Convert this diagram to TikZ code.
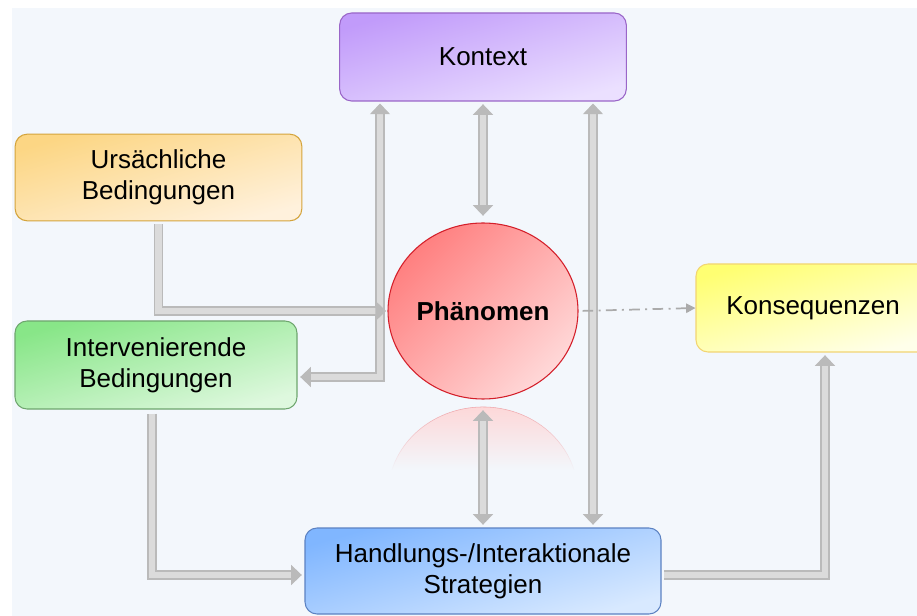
\documentclass[tikz,border=0pt]{standalone}
\usepackage{fontspec}
\setmainfont{Liberation Sans}
\usetikzlibrary{arrows.meta,shapes.geometric,fadings}
\definecolor{bgblue}{HTML}{F3F7FC}
\definecolor{kontA}{HTML}{C19BFA}\definecolor{kontB}{HTML}{EBE0FF}\definecolor{kontL}{HTML}{9A66C8}
\definecolor{ursA}{HTML}{FCD684}\definecolor{ursB}{HTML}{FFF1DC}\definecolor{ursL}{HTML}{D4A43C}
\definecolor{intA}{HTML}{88E688}\definecolor{intB}{HTML}{DEF8DE}\definecolor{intL}{HTML}{6EA66E}
\definecolor{phA}{HTML}{FF8080}\definecolor{phB}{HTML}{FFD8D8}\definecolor{phL}{HTML}{D41F2A}
\definecolor{konA}{HTML}{FFFF72}\definecolor{konB}{HTML}{FFFFEA}\definecolor{konL}{HTML}{F2D572}
\definecolor{handA}{HTML}{80B6FF}\definecolor{handB}{HTML}{D8E9FF}\definecolor{handL}{HTML}{5C82C2}

\begin{document}
\begin{tikzpicture}[x=0.75pt, y=-0.75pt, font=\fontsize{19.5}{23.5}\selectfont, line join=round, >={Triangle[width=15pt,length=8pt]},
		box/.style={rounded corners=9pt, align=center, inner sep=0pt, line width=0.8pt},
		grad/.style 2 args={top color=#1, bottom color=#2, shading angle=16},
		pipe/.style={draw=black!27, line width=0.9pt, double=black!14, double distance=5pt, line join=miter},
		dotarrow/.style={draw=black!33, line width=1.3pt, dash pattern=on 8pt off 4pt on 1.5pt off 4pt, -{Triangle[width=7pt,length=7pt]}}]
		\useasboundingbox (0,0) rectangle (917,616);
		\clip (0,0) rectangle (917,616);
		\fill[white] (0,0) rectangle (917,616);
		\fill[bgblue] (12,8) rectangle (917,616);
		% help points for the bent pipes
		\coordinate (kx) at (380,0);
		\coordinate (rx) at (593,0);
		% reflection under the phenomenon
		\fill[phA!35, path fading=south] (391.9,470) arc[start angle=-163.5, end angle=-16.5, x radius=95, y radius=88] -- cycle;
		\draw[phL!45, path fading=south] (391.9,470) arc[start angle=-163.5, end angle=-16.5, x radius=95, y radius=88];
		% boxes
		\node[box, draw=kontL, grad={kontA}{kontB}, minimum width=215pt, minimum height=66pt] (kontext) at (483,57) {Kontext};
		\node[box, draw=ursL, grad={ursA}{ursB}, minimum width=215pt, minimum height=65pt] (ursach) at (158.5,177.5) {Ursächliche\\Bedingungen};
		\node[box, draw=intL, grad={intA}{intB}, minimum width=211.5pt, minimum height=66pt] (interv) at (156,365) {Intervenierende\\Bedingungen};
		\node[ellipse, draw=phL, line width=0.8pt, grad={phA}{phB}, shading angle=45, inner sep=-3pt, minimum width=142.5pt, minimum height=132pt, font=\fontsize{19.5}{23.5}\selectfont\bfseries] (phaen) at (483,311) {Phänomen};
		\node[box, draw=konL, grad={konA}{konB}, minimum width=175.5pt, minimum height=66pt] (konseq) at (813,308) {Konsequenzen};
		\node[box, draw=handL, grad={handA}{handB}, minimum width=267pt, minimum height=64.5pt] (hand) at (483,571) {Handlungs-/Interaktionale\\Strategien};
		% pipes
		\draw[pipe, <->, shorten <=2pt, shorten >=5pt] (kontext) -- (phaen);
		\draw[pipe, <->, shorten <=2pt, shorten >=1.5pt] ([yshift=-9pt]interv.east) -| (kontext.south -| kx);
		\draw[pipe, ->, shorten <=2pt, shorten >=1pt] (ursach.south) |- (phaen.west);
		\draw[pipe, <->, shorten <=1.5pt, shorten >=2pt] (kontext.south -| rx) -- (hand.north -| rx);
		\draw[pipe, <->, shorten <=8pt, shorten >=2pt] (phaen) -- (hand);
		\draw[pipe, ->, shorten <=3pt, shorten >=2pt] ([xshift=-3pt]interv.south) |- ([yshift=-3pt]hand.west);
		\draw[pipe, ->, shorten <=2pt, shorten >=2pt] ([yshift=-3pt]hand.east) -| ([xshift=9pt]konseq.south);
		\draw[dotarrow, shorten <=3pt] (phaen.east) -- (konseq.west);
\end{tikzpicture}
\end{document}
